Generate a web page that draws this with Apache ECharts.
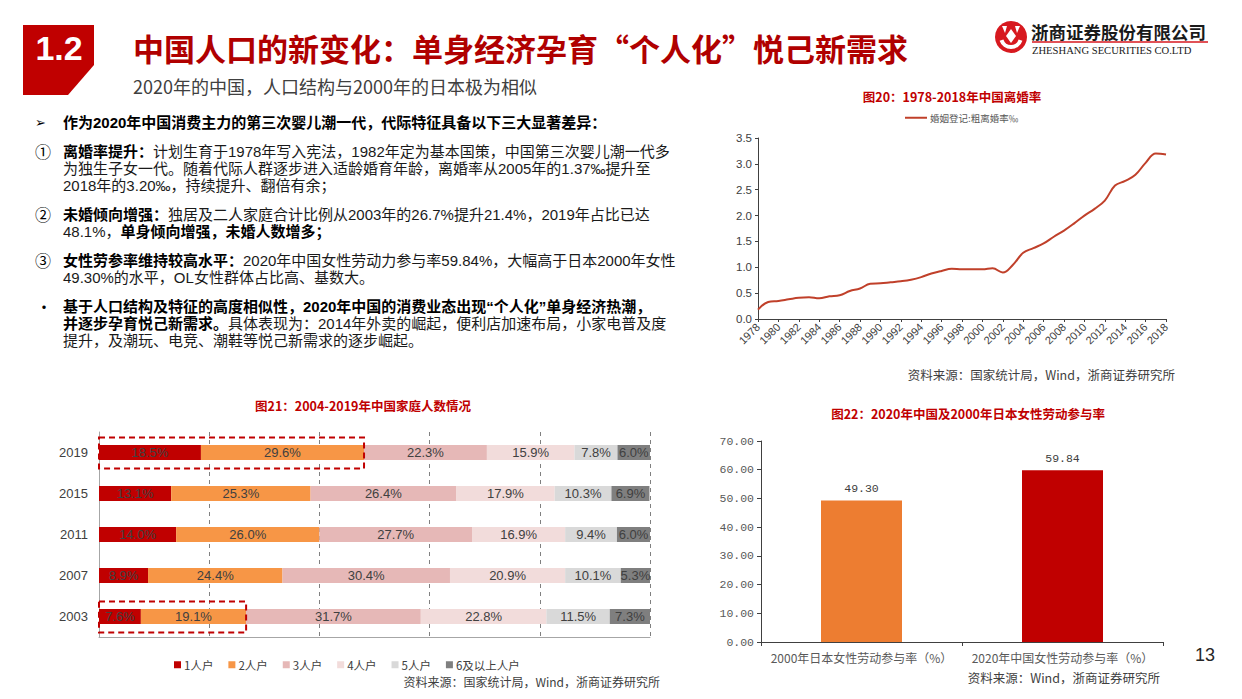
<!DOCTYPE html>
<html>
<head>
<meta charset="utf-8">
<script src="https://cdn.jsdelivr.net/npm/echarts@6/dist/echarts.min.js"></script>
<style>
html,body{margin:0;padding:0;background:#fff;}
#main{width:1242px;height:699px;}
</style>
</head>
<body>
<div id="main"></div>
<script>
// ---------- data ----------
const divorceYears = [];
for (let y = 1978; y <= 2018; y++) divorceYears.push(String(y));
const divorceRate = [0.18,0.33,0.35,0.38,0.41,0.42,0.40,0.44,0.46,0.54,0.59,0.68,0.69,0.71,0.73,0.76,0.81,0.88,0.93,0.97,0.96,0.96,0.96,0.98,0.90,1.05,1.28,1.37,1.46,1.59,1.71,1.85,2.00,2.13,2.29,2.58,2.67,2.79,3.02,3.20,3.18];
const divorceName = '婚姻登记:粗离婚率‰';

const hhYears = ['2003','2007','2011','2015','2019'];
const hhNames = ['1人户','2人户','3人户','4人户','5人户','6及以上人户'];
const hh1 = [7.6, 8.9, 14.0, 13.1, 18.5];
const hh2 = [19.1, 24.4, 26.0, 25.3, 29.6];
const hh3 = [31.7, 30.4, 27.7, 26.4, 22.3];
const hh4 = [22.8, 20.9, 16.9, 17.9, 15.9];
const hh5 = [11.5, 10.1, 9.4, 10.3, 7.8];
const hh6 = [7.3, 5.3, 6.0, 6.9, 6.0];
const hhHighlightYears = ['2019','2003'];

const laborCats = ['2000年日本女性劳动参与率（%）','2020年中国女性劳动参与率（%）'];
const laborVals = [49.30, 59.84];

// ---------- styles ----------
const RED = '#C00000';
const CJK = '"Noto Sans CJK SC","Noto Sans",sans-serif';
const BODY = '"Liberation Sans","Noto Sans CJK SC",sans-serif';
const ARIAL = '"Liberation Sans",Arial,sans-serif';
const MONO = '"Liberation Mono","DejaVu Sans Mono",monospace';
const hhColors = ['#C00000','#F79646','#E6B8B7','#F2DCDB','#D9D9D9','#7F7F7F'];
const laborColors = ['#ED7D31','#C00000'];

const chart = echarts.init(document.getElementById('main'), null, {renderer:'svg'});

// body text paragraphs (one text element per paragraph, 17px line pitch)
const bodyRich = {
  n:{fontSize:15,fontFamily:BODY,fill:'#1a1a1a',fontWeight:'normal',lineHeight:17},
  b:{fontSize:15,fontFamily:BODY,fill:'#000',fontWeight:'bold',lineHeight:17}
};
const bodyParas = [
  {y:122, mark:'➢', lines:['{b|作为2020年中国消费主力的第三次婴儿潮一代，代际特征具备以下三大显著差异：}']},
  {y:151, mark:'①', lines:[
    '{b|离婚率提升：}{n|计划生育于1978年写入宪法，1982年定为基本国策，中国第三次婴儿潮一代多}',
    '{n|为独生子女一代。随着代际人群逐步进入适龄婚育年龄，离婚率从2005年的1.37‰提升至}',
    '{n|2018年的3.20‰，持续提升、翻倍有余；}']},
  {y:214, mark:'②', lines:[
    '{b|未婚倾向增强：}{n|独居及二人家庭合计比例从2003年的26.7%提升21.4%，2019年占比已达}',
    '{n|48.1%，}{b|单身倾向增强，未婚人数增多；}']},
  {y:260, mark:'③', lines:[
    '{b|女性劳参率维持较高水平：}{n|2020年中国女性劳动力参与率59.84%，大幅高于日本2000年女性}',
    '{n|49.30%的水平，OL女性群体占比高、基数大。}']},
  {y:306, mark:'•', lines:[
    '{b|基于人口结构及特征的高度相似性，2020年中国的消费业态出现“个人化”单身经济热潮，}',
    '{b|并逐步孕育悦己新需求。}{n|具体表现为：2014年外卖的崛起，便利店加速布局，小家电普及度}',
    '{n|提升，及潮玩、电竞、潮鞋等悦己新需求的逐步崛起。}']}
];

const graphics = [
  // section number box
  {type:'polygon', id:'secbox', shape:{points:[[23,25],[94,25],[94,65],[68,95],[23,95]]}, style:{fill:RED}},
  {type:'text', id:'secnum', x:59, y:48, style:{text:'1.2', fill:'#fff', fontSize:34, fontWeight:'bold', fontFamily:ARIAL, align:'center', verticalAlign:'middle'}},
  {type:'text', id:'title', x:133, y:47, style:{text:'中国人口的新变化：单身经济孕育“个人化”悦己新需求', fill:'#B00000', fontSize:31, fontWeight:'bold', fontFamily:CJK, verticalAlign:'middle'}},
  {type:'text', id:'subtitle', x:133, y:86, style:{text:'2020年的中国，人口结构与2000年的日本极为相似', fill:'#404040', fontSize:18, fontFamily:CJK, verticalAlign:'middle'}},
  // logo
  {type:'circle', id:'logoc', shape:{cx:1011, cy:37, r:16}, style:{fill:'#D7191F'}},
  {type:'arc', id:'logoa', shape:{cx:1011, cy:37, r:10, startAngle:Math.PI*0.1, endAngle:Math.PI*0.9}, style:{stroke:'#fff', lineWidth:4, fill:null}},
  {type:'polygon', id:'logod', shape:{points:[[1011,29],[1016,36],[1011,43],[1006,36]]}, style:{fill:'#fff'}},
  {type:'polygon', id:'logod2', shape:{points:[[1002,26],[1007,26],[1005,33]]}, style:{fill:'#fff'}},
  {type:'polygon', id:'logod3', shape:{points:[[1015,26],[1020,26],[1017,33]]}, style:{fill:'#fff'}},
  {type:'text', id:'logot', x:1031, y:31, style:{text:'浙商证券股份有限公司', fill:'#1a1a1a', fontSize:17.5, fontWeight:'bold', fontFamily:CJK, verticalAlign:'middle'}},
  {type:'line', id:'logol', shape:{x1:1032, y1:42, x2:1208, y2:42}, style:{stroke:'#D7191F', lineWidth:1.5}},
  {type:'text', id:'logoe', x:1032, y:50, style:{text:'ZHESHANG SECURITIES CO.LTD', fill:'#1a1a1a', fontSize:10.6, fontFamily:'"Liberation Serif","DejaVu Serif",serif', verticalAlign:'middle'}},
  // chart titles
  {type:'text', id:'t20', x:952, y:96, style:{text:'图20：1978-2018年中国离婚率', fill:RED, fontSize:12.5, fontWeight:'bold', fontFamily:CJK, align:'center', verticalAlign:'middle'}},
  {type:'text', id:'t21', x:363, y:405, style:{text:'图21：2004-2019年中国家庭人数情况', fill:RED, fontSize:12.5, fontWeight:'bold', fontFamily:CJK, align:'center', verticalAlign:'middle'}},
  {type:'text', id:'t22', x:968, y:413, style:{text:'图22：2020年中国及2000年日本女性劳动参与率', fill:RED, fontSize:12.5, fontWeight:'bold', fontFamily:CJK, align:'center', verticalAlign:'middle'}},
  // sources
  {type:'text', id:'s20', x:1175, y:374, style:{text:'资料来源：国家统计局，Wind，浙商证券研究所', fill:'#404040', fontSize:12.5, fontFamily:CJK, align:'right', verticalAlign:'middle'}},
  {type:'text', id:'s21', x:660, y:681, style:{text:'资料来源：国家统计局，Wind，浙商证券研究所', fill:'#404040', fontSize:12, lineHeight:12, fontFamily:CJK, align:'right', verticalAlign:'middle'}},
  {type:'text', id:'s22', x:1160, y:677, style:{text:'资料来源：Wind，浙商证券研究所', fill:'#404040', fontSize:12.5, fontFamily:CJK, align:'right', verticalAlign:'middle'}},
  // page number
  {type:'text', id:'page', x:1205, y:655, style:{text:'13', fill:'#262626', fontSize:18, fontFamily:ARIAL, align:'center', verticalAlign:'middle'}}
];
bodyParas.forEach((p, i) => {
  graphics.push({type:'text', id:'mk'+i, x:p.mark === '•' ? 36 : 35, y:p.y, style:{text:p.mark, fill:'#000', fontSize:p.mark === '➢' ? 13 : 16, lineHeight:16, fontFamily:p.mark === '➢' ? '"DejaVu Sans",sans-serif' : CJK, verticalAlign:'middle'}});
  graphics.push({type:'text', id:'bp'+i, x:63, y:p.y - 8.5, style:{text:p.lines.join('\n'), rich:bodyRich, fontSize:15, lineHeight:17, fontFamily:BODY, verticalAlign:'top'}});
});

const hhData = [hh1, hh2, hh3, hh4, hh5, hh6];

const option = {
  backgroundColor:'#fff',
  animation:false,
  textStyle:{fontFamily:CJK},
  graphic: graphics,
  legend:[
    {data:[divorceName], left:900, top:108, itemWidth:22, itemHeight:2, icon:'rect', itemGap:4,
     textStyle:{fontSize:9.5, color:'#595959', fontFamily:CJK, padding:[0,0,0,-2]}},
    {data:hhNames, left:174, top:659, padding:0, itemWidth:7, itemHeight:7, icon:'rect', itemGap:15,
     textStyle:{fontSize:11.5, lineHeight:11, color:'#404040', fontFamily:CJK, padding:[0,0,0,-2]}}
  ],
  grid:[
    {left:758, top:138, width:408, height:181},
    {left:99, top:432, width:551, height:205},
    {left:761, top:441, width:402, height:201}
  ],
  xAxis:[
    {gridIndex:0, type:'category', data:divorceYears, boundaryGap:false,
     axisLine:{lineStyle:{color:'#404040', width:1}},
     axisTick:{interval:1, length:3, lineStyle:{color:'#404040'}},
     axisLabel:{interval:1, rotate:45, fontSize:11, color:'#404040', fontFamily:ARIAL, margin:6}},
    {gridIndex:1, type:'value', min:0, max:100, interval:20,
     axisLine:{show:true, lineStyle:{color:'#A6A6A6'}}, axisTick:{show:false}, axisLabel:{show:false},
     splitLine:{show:true, lineStyle:{color:'#808080', type:[4,4], width:1}}},
    {gridIndex:2, type:'category', data:laborCats,
     axisLine:{lineStyle:{color:'#404040'}},
     axisTick:{show:true, length:4, lineStyle:{color:'#404040'}},
     axisLabel:{interval:0, fontSize:12, color:'#595959', fontFamily:CJK, margin:9}}
  ],
  yAxis:[
    {gridIndex:0, type:'value', min:0, max:3.5, interval:0.5,
     axisLine:{show:true, lineStyle:{color:'#404040'}},
     axisTick:{show:true, length:3, lineStyle:{color:'#404040'}},
     axisLabel:{formatter:v => v.toFixed(1), fontSize:11.5, color:'#404040', fontFamily:ARIAL, margin:6},
     splitLine:{show:false}},
    {gridIndex:1, type:'category', data:hhYears,
     axisLine:{show:true, lineStyle:{color:'#A6A6A6'}}, axisTick:{show:false},
     axisLabel:{fontSize:13, color:'#404040', fontFamily:ARIAL, margin:11}},
    {gridIndex:2, type:'value', min:0, max:70, interval:10,
     axisLine:{show:true, lineStyle:{color:'#404040'}},
     axisTick:{show:true, length:4, lineStyle:{color:'#404040'}},
     axisLabel:{formatter:v => v.toFixed(2), fontSize:11.5, color:'#595959', fontFamily:MONO, margin:7},
     splitLine:{show:false}}
  ],
  series:[
    {name:divorceName, type:'line', xAxisIndex:0, yAxisIndex:0, data:divorceRate, smooth:0.4,
     showSymbol:false, symbol:'none', lineStyle:{color:'#C0402A', width:2}, itemStyle:{color:'#C0402A'}},
    ...hhNames.map((n, i) => ({
      name:n, type:'bar', stack:'hh', xAxisIndex:1, yAxisIndex:1, data:hhData[i], barWidth:15,
      itemStyle:{color:hhColors[i]},
      label:{show:true, position:'inside', formatter:p => p.value.toFixed(1) + '%', fontSize:13, color:'#404040', fontFamily:ARIAL}
    })),
    {name:'劳动参与率', type:'bar', xAxisIndex:2, yAxisIndex:2, barWidth:81,
     data:laborVals.map((v, i) => ({value:v, itemStyle:{color:laborColors[i]}})),
     label:{show:true, position:'top', distance:6, formatter:p => p.value.toFixed(2), fontSize:11.5, color:'#404040', fontFamily:MONO}}
  ]
};
chart.setOption(option);

// dashed highlight boxes computed from the axes
const boxes = hhHighlightYears.map(yr => {
  const idx = hhYears.indexOf(yr);
  const cum = hh1[idx] + hh2[idx];
  const p0 = chart.convertToPixel({gridIndex:1}, [0, yr]);
  const p1 = chart.convertToPixel({gridIndex:1}, [cum, yr]);
  return {type:'rect', id:'box'+yr, z:100,
    shape:{x:p0[0], y:p0[1] - 15, width:p1[0] - p0[0], height:31},
    style:{fill:'none', stroke:'#C00000', lineWidth:2, lineDash:[6,4]}};
});
chart.setOption({graphic:boxes});
</script>
</body>
</html>
